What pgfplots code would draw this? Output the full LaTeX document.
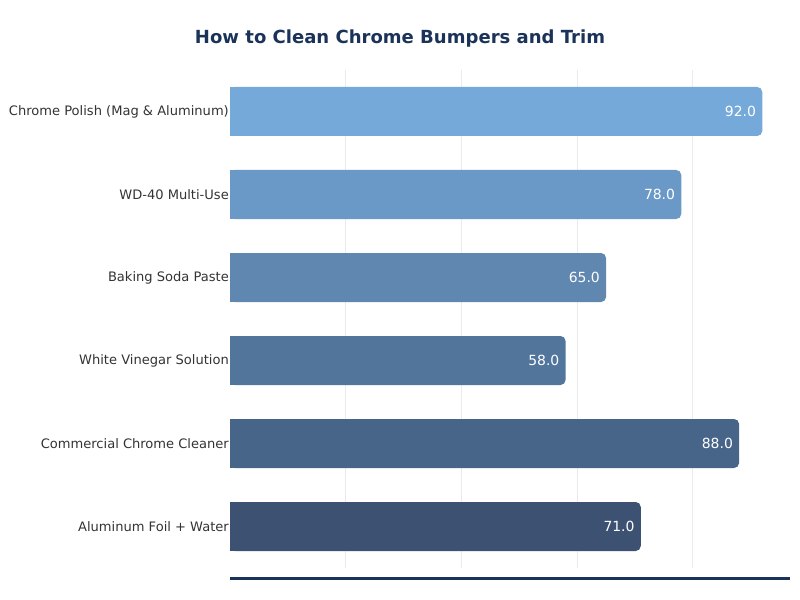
\documentclass[border=0pt]{standalone}
\usepackage{pgfplots}
\pgfplotsset{compat=1.18}
\usepackage{pgfplotstable}
\usepackage{fontspec}
\setmainfont{DejaVu Sans}
\definecolor{c1}{HTML}{74A9DA}
\definecolor{c2}{HTML}{6A99C8}
\definecolor{c3}{HTML}{5F87AF}
\definecolor{c4}{HTML}{52759B}
\definecolor{c5}{HTML}{476589}
\definecolor{c6}{HTML}{3D5272}
\definecolor{titlec}{HTML}{1B3358}
\definecolor{labc}{HTML}{333333}
\pgfplotstableread{
idx v
0 92
1 78
2 65
3 58
4 88
5 71
}\data
\pgfplotsset{
  mainbar/.style={draw=none, rounded corners=5bp, forget plot,
    nodes near coords={\pgfmathprintnumber[fixed,fixed zerofill,precision=1,assume math mode=true]{\pgfplotspointmeta}},
    every node near coord/.append style={anchor=east, inner sep=0pt, xshift=-6bp, text=white,
      font=\fontsize{14}{16}\selectfont}},
  halfbar/.style={draw=none, forget plot},
}
\begin{document}
\begin{tikzpicture}[x=1bp,y=1bp]
\path[use as bounding box] (0,0) rectangle (800,600);
\node[font=\fontsize{18.1}{21}\selectfont\bfseries, text=titlec] at (400,561) {How to Clean Chrome Bumpers and Trim};
\begin{axis}[at={(230bp,32bp)}, anchor=south west, scale only axis,
  width=560bp, height=498bp,
  xmin=0, xmax=96.8, ymin=-0.5, ymax=5.5, y dir=reverse,
  xbar, bar width=49bp, bar shift=0pt,
  axis line style={draw=none},
  xtick={20,40,60,80}, xticklabels={},
  xmajorgrids, grid style={color=black!8, line width=0.8bp},
  ytick={0,...,5},
  yticklabels={Chrome Polish (Mag \& Aluminum),WD-40 Multi-Use,Baking Soda Paste,White Vinegar Solution,Commercial Chrome Cleaner,Aluminum Foil + Water},
  yticklabel style={font=\fontsize{13.1}{16}\selectfont, text=labc, inner sep=0pt, xshift=-1bp},
  major tick length=0pt, tick style={draw=none},
]
\addplot[mainbar, fill=c1] table[x=v, y=idx, restrict expr to domain={\coordindex}{0:0}] {\data};
\addplot[halfbar, fill=c1] table[x expr=\thisrow{v}/2, y=idx, restrict expr to domain={\coordindex}{0:0}] {\data};
\addplot[mainbar, fill=c2] table[x=v, y=idx, restrict expr to domain={\coordindex}{1:1}] {\data};
\addplot[halfbar, fill=c2] table[x expr=\thisrow{v}/2, y=idx, restrict expr to domain={\coordindex}{1:1}] {\data};
\addplot[mainbar, fill=c3] table[x=v, y=idx, restrict expr to domain={\coordindex}{2:2}] {\data};
\addplot[halfbar, fill=c3] table[x expr=\thisrow{v}/2, y=idx, restrict expr to domain={\coordindex}{2:2}] {\data};
\addplot[mainbar, fill=c4] table[x=v, y=idx, restrict expr to domain={\coordindex}{3:3}] {\data};
\addplot[halfbar, fill=c4] table[x expr=\thisrow{v}/2, y=idx, restrict expr to domain={\coordindex}{3:3}] {\data};
\addplot[mainbar, fill=c5] table[x=v, y=idx, restrict expr to domain={\coordindex}{4:4}] {\data};
\addplot[halfbar, fill=c5] table[x expr=\thisrow{v}/2, y=idx, restrict expr to domain={\coordindex}{4:4}] {\data};
\addplot[mainbar, fill=c6] table[x=v, y=idx, restrict expr to domain={\coordindex}{5:5}] {\data};
\addplot[halfbar, fill=c6] table[x expr=\thisrow{v}/2, y=idx, restrict expr to domain={\coordindex}{5:5}] {\data};
\end{axis}
\draw[titlec, line width=3bp] (230,21) -- (790,21);
\end{tikzpicture}
\end{document}
